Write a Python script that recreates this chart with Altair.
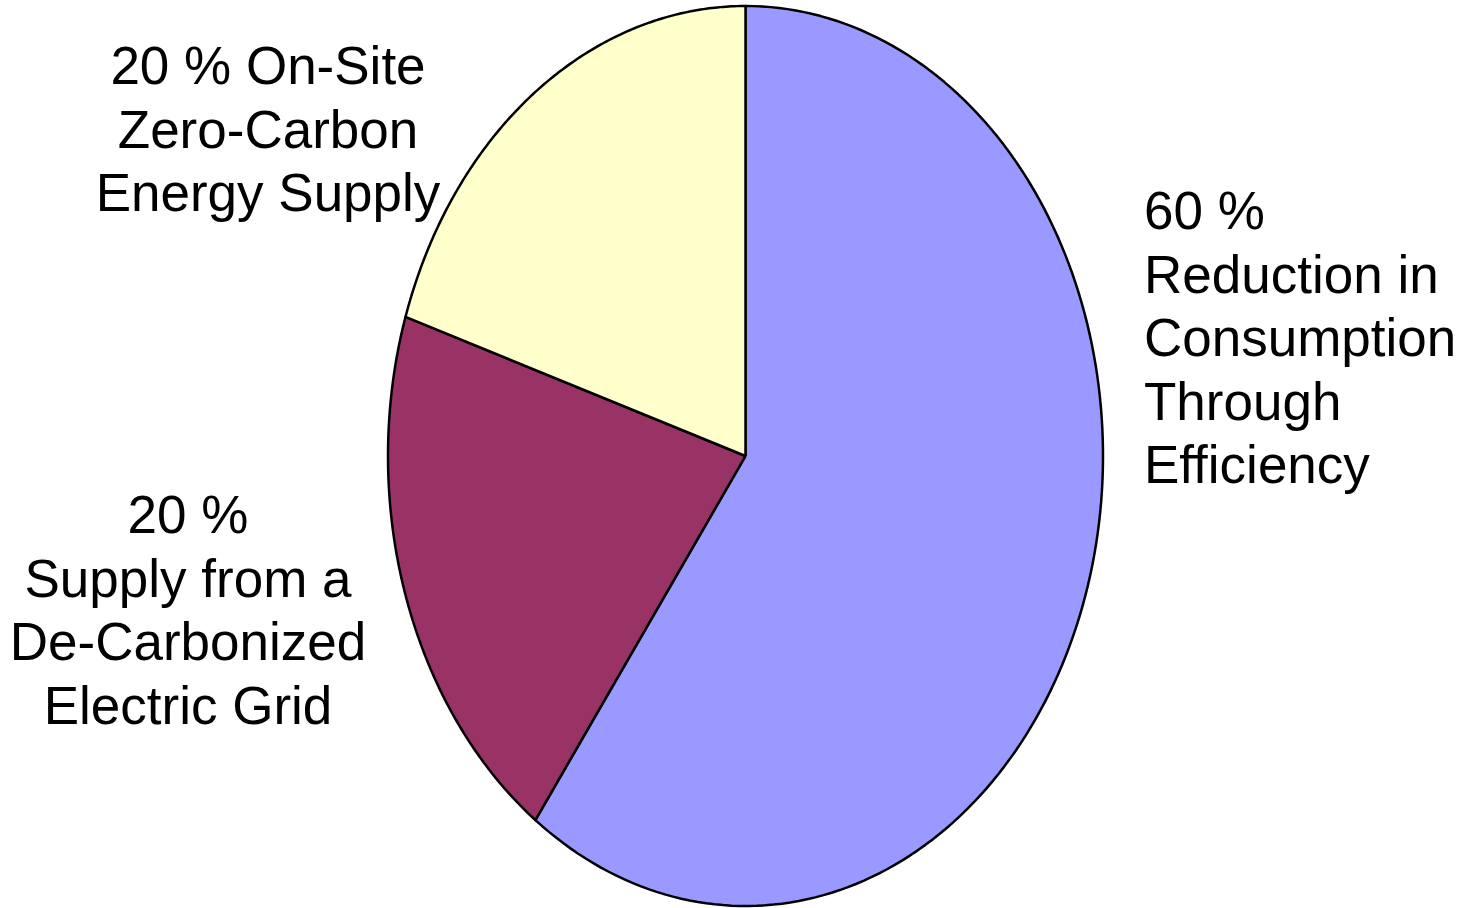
import altair as alt
import pandas as pd

categories = ["Reduction in Consumption Through Efficiency",
              "Supply from a De-Carbonized Electric Grid",
              "On-Site Zero-Carbon Energy Supply"]
shares = [60, 20, 20]
colors = ["#9999FF", "#993366", "#FFFFCC"]
label_lines = [
    [f"{shares[0]} %", "Reduction in", "Consumption", "Through", "Efficiency"],
    [f"{shares[1]} %", "Supply from a", "De-Carbonized", "Electric Grid"],
    [f"{shares[2]} % On-Site", "Zero-Carbon", "Energy Supply"],
]

df = pd.DataFrame({"idx": [0, 1, 2], "category": categories, "share": shares, "color": colors})

W, H = 1460, 908
cx, cy, rx, ry = 745.5, 456.0, 357.5, 450.0
xdom = [-cx / rx, (W - cx) / rx]
ydom = [-(H - cy) / ry, cy / ry]
N = 160

pie = alt.Chart(df).transform_window(
    cum="sum(share)", sort=[alt.SortField("idx")], frame=[None, 0]
).transform_joinaggregate(total="sum(share)").transform_calculate(
    a0="(datum.cum - datum.share) / datum.total * 2 * PI",
    a1="datum.cum / datum.total * 2 * PI",
    steps=f"sequence(-1, {N + 2})",
).transform_flatten(["steps"]).transform_calculate(
    a=f"datum.a0 + (datum.a1 - datum.a0) * clamp(datum.steps, 0, {N}) / {N}",
    px=f"(datum.steps < 0 || datum.steps > {N}) ? 0 : sin(datum.a)",
    py=f"(datum.steps < 0 || datum.steps > {N}) ? 0 : cos(datum.a)",
).mark_line(stroke="black", strokeWidth=2.5, strokeJoin="round", interpolate="linear").encode(
    x=alt.X("px:Q", scale=alt.Scale(domain=xdom, nice=False, zero=False), axis=None),
    y=alt.Y("py:Q", scale=alt.Scale(domain=ydom, nice=False, zero=False), axis=None),
    fill=alt.Fill("color:N", scale=None, legend=None),
    detail="category:N",
    order="steps:Q",
)

font = "Liberation Sans"
fs = 53
lh = 63.5

def label(i, x, y, align):
    return alt.Chart(df).transform_filter(alt.datum.idx == i).mark_text(
        text=label_lines[i], x=x, y=y, align=align, baseline="middle",
        font=font, fontSize=fs, lineHeight=lh, color="black",
    )

chart = alt.layer(
    pie,
    label(0, 1144, 213, "left"),
    label(1, 188, 517, "center"),
    label(2, 268, 68, "center"),
).properties(
    width=W, height=H, padding=0, autosize=alt.AutoSizeParams(type="none"), background="white"
).configure_view(stroke=None)

chart.save("out.html", embed_options={"renderer": "svg", "actions": False})
